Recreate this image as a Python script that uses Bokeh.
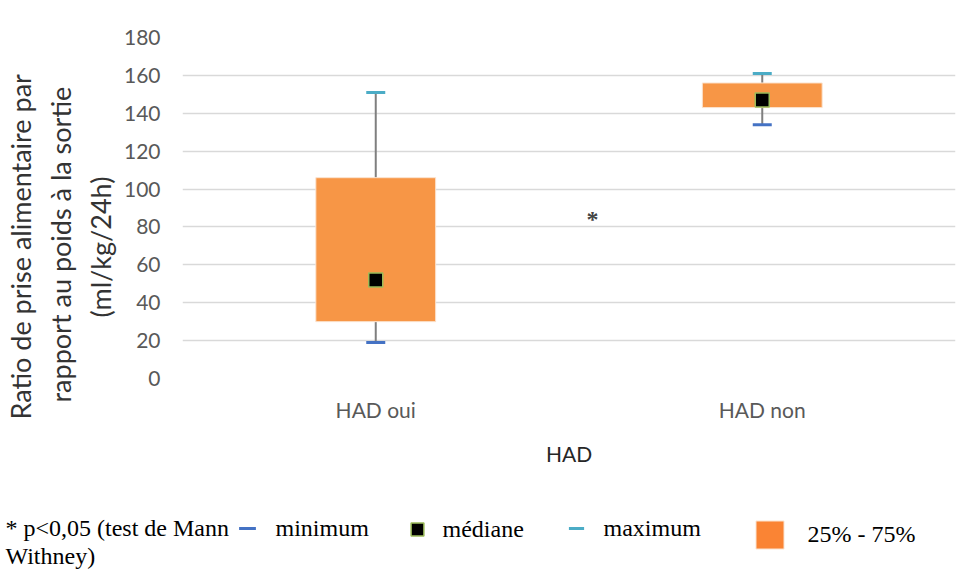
import math
from bokeh.plotting import figure
from bokeh.layouts import row, column
from bokeh.models import (Range1d, FactorRange, Label, Legend, LegendItem, FixedTicker, Title)
from bokeh.embed import file_html
from bokeh.resources import INLINE

# ---- data ----
categories = ["HAD oui", "HAD non"]
minimum = [19, 134]
q1 = [30, 143]
median = [52, 147]
q3 = [106, 156]
maximum = [151, 161]
y_ticks = [0, 20, 40, 60, 80, 100, 120, 140, 160, 180]
y_title_lines = ["Ratio de prise alimentaire par",
                 "rapport au poids à la sortie",
                 "(ml/kg/24h)"]
x_title = "HAD"
footnote_lines = ["* p<0,05 (test de Mann", "Withney)"]
legend_labels = ["minimum", "médiane", "maximum", "25% - 75%"]
signif_mark = "*"
signif_x = 1.066
signif_y = 85

# ---- styles ----
ORANGE = "#F79646"
LEG_ORANGE = "#FA8434"
MIN_BLUE = "#4472C4"
MAX_BLUE = "#4BACC6"
GREEN = "#9BBB59"
WHISKER = "#7F7F7F"
TICK_COL = "#595959"
SANS = "Lato"
SERIF = "Liberation Serif"

TOTAL_W = 965
TOTAL_H = 570
TOP_H = 475

# ---- main chart ----
p = figure(width=TOTAL_W, height=TOP_H,
           x_range=FactorRange(*categories), y_range=Range1d(0, 180),
           output_backend="svg", toolbar_location=None,
           min_border_left=178, min_border_right=10,
           min_border_top=37, min_border_bottom=TOP_H - 378)
p.outline_line_color = None
p.background_fill_color = "white"
p.border_fill_color = "white"

p.xgrid.grid_line_color = None
p.ygrid.grid_line_color = "#D9D9D9"
p.ygrid.grid_line_width = 1.5
p.yaxis.ticker = FixedTicker(ticks=y_ticks)

for ax in (p.xaxis[0], p.yaxis[0]):
    ax.axis_line_color = None
    ax.major_tick_line_color = None
    ax.minor_tick_line_color = None
    ax.major_tick_in = 0
    ax.major_tick_out = 0
    ax.major_label_text_font = SANS
    ax.major_label_text_font_size = "21px"
    ax.major_label_text_color = TICK_COL

p.yaxis.major_label_standoff = 22
p.xaxis.major_label_standoff = 18
p.xaxis.axis_label = x_title
p.xaxis.axis_label_text_font = SANS
p.xaxis.axis_label_text_font_size = "21px"
p.xaxis.axis_label_text_font_style = "normal"
p.xaxis.axis_label_text_color = "#262626"
p.xaxis.axis_label_standoff = 16


def draw_boxes(f, box_color):
    f.segment(x0=categories, y0=q3, x1=categories, y1=maximum,
              line_color=WHISKER, line_width=2)
    f.segment(x0=categories, y0=minimum, x1=categories, y1=q1,
              line_color=WHISKER, line_width=2)
    r_box = f.vbar(x=categories, width=0.31, bottom=q1, top=q3,
                   fill_color=box_color, line_color="#FBE3CF", line_width=1)
    r_min = f.scatter(x=categories, y=minimum, marker="dash", size=19,
                      line_color=MIN_BLUE, line_width=3)
    r_max = f.scatter(x=categories, y=maximum, marker="dash", size=19,
                      line_color=MAX_BLUE, line_width=3)
    r_med = f.scatter(x=categories, y=median, marker="square", size=14,
                      fill_color="black", line_color=GREEN, line_width=1.5)
    return r_box, r_min, r_max, r_med


draw_boxes(p, ORANGE)

p.add_layout(Label(x=signif_x, y=signif_y, text=signif_mark,
                   text_font=SERIF, text_font_size="24px", text_font_style="bold",
                   text_align="center", text_baseline="middle", y_offset=-2, x_offset=-2))

# y title: three stacked titles in the left panel (closest line first)
title_offsets = [-41, -24, 61]
for line, off in reversed(list(zip(y_title_lines, title_offsets))):
    p.add_layout(Title(text=line, align="left", offset=off, standoff=5,
                       vertical_align="middle",
                       text_font=SANS, text_font_size="27px",
                       text_font_style="normal", text_color="#333333"), "left")

# ---- legend / footnote panel ----
LEG_H = TOTAL_H - TOP_H
lfig = figure(width=TOTAL_W, height=LEG_H, output_backend="svg", toolbar_location=None,
              x_axis_type=None, y_axis_type=None,
              x_range=FactorRange(*categories), y_range=Range1d(1000, 1001),
              min_border=0, min_border_left=0, min_border_right=0,
              min_border_top=0, min_border_bottom=0)
lfig.outline_line_color = None
lfig.grid.grid_line_color = None
lfig.background_fill_color = "white"
lfig.border_fill_color = "white"
# legend keys drawn from the same series (outside the visible range of this panel)
l_box, l_min, l_max, l_med = draw_boxes(lfig, LEG_ORANGE)

lfig.add_layout(Label(x=5, y=43, x_units="screen", y_units="screen",
                      text=footnote_lines[0], text_font=SERIF, text_font_size="24px",
                      text_color="black", text_baseline="alphabetic"))
lfig.add_layout(Label(x=5, y=15, x_units="screen", y_units="screen",
                      text=footnote_lines[1], text_font=SERIF, text_font_size="24px",
                      text_color="black", text_baseline="alphabetic"))

leg_specs = [
    (legend_labels[0], l_min, (225.5, 21), 42, 8),
    (legend_labels[1], l_med, (400.5, 25), 32, 10),
    (legend_labels[2], l_max, (556.5, 23), 38, 9),
    (legend_labels[3], l_box, (751.5, 18.5), 35, 21),
]
for label, rend, loc, gsize, standoff in leg_specs:
    leg = Legend(items=[LegendItem(label=label, renderers=[rend])],
                 location=loc, glyph_width=gsize, glyph_height=gsize,
                 label_standoff=standoff, padding=0, margin=0, spacing=0,
                 border_line_color=None, background_fill_alpha=0,
                 label_text_font=SERIF, label_text_font_size="24px",
                 label_text_color="black")
    lfig.add_layout(leg, "center")

layout = column(row(p, spacing=0), lfig, spacing=0)
open("out.html", "w").write(file_html(layout, INLINE))
